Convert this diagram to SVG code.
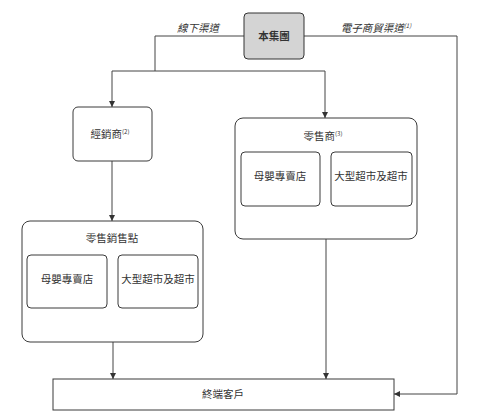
<svg xmlns="http://www.w3.org/2000/svg" width="481" height="420" viewBox="0 0 481 420">
<style>
.box{fill:#fff;stroke:#3a3a3a;stroke-width:1}
.t{font-family:"Noto Sans CJK TC","Noto Sans CJK SC",sans-serif;font-size:10.5px;fill:#333;text-anchor:middle}
.s{font-family:"Noto Sans CJK TC","Liberation Sans",sans-serif;font-size:6px;fill:#333}
.lbl{font-style:italic}
.c{fill:none;stroke:#444;stroke-width:1}
</style>
<defs>
<marker id="ah" viewBox="0 0 10 10" refX="10" refY="5" markerWidth="6" markerHeight="6" orient="auto" markerUnits="userSpaceOnUse">
<path d="M0,0 L10,5 L0,10 z" fill="#333"/>
</marker>
</defs>
<rect width="481" height="420" fill="#fff"/>
<g id="connectors">
<path class="c" d="M244,36 H155 V71"/>
<path class="c" d="M112,71 H325"/>
<path class="c" d="M112,71 V107" marker-end="url(#ah)"/>
<path class="c" d="M325,71 V118" marker-end="url(#ah)"/>
<path class="c" d="M304,36 H457 V394 H394" marker-end="url(#ah)"/>
<path class="c" d="M112,161 V221" marker-end="url(#ah)"/>
<path class="c" d="M113,342 V379" marker-end="url(#ah)"/>
<path class="c" d="M326,239 V379" marker-end="url(#ah)"/>
<text class="t lbl" x="198" y="32">線下渠道</text>
<text class="t lbl" x="376" y="32">電子商貿渠道<tspan class="s" dy="-4">(1)</tspan></text>
</g>
<g id="group">
<rect x="244" y="13" width="60" height="46" rx="4" fill="#d4d4d4" stroke="#333" stroke-width="1"/>
<text class="t" x="274" y="40" font-weight="bold">本集團</text>
</g>
<g id="distributor">
<rect class="box" x="73" y="107" width="79" height="54" rx="5"/>
<text class="t" x="110" y="138">經銷商<tspan class="s" dy="-4">(2)</tspan></text>
</g>
<g id="retail-points">
<rect class="box" x="22" y="221" width="181" height="121" rx="8"/>
<text class="t" x="112" y="242">零售銷售點</text>
</g>
<g id="rp-maternity">
<rect class="box" x="27" y="255" width="80" height="53" rx="4"/>
<text class="t" x="67" y="283">母嬰專賣店</text>
</g>
<g id="rp-supermarket">
<rect class="box" x="118" y="255" width="80" height="53" rx="4"/>
<text class="t" x="158" y="283">大型超市及超市</text>
</g>
<g id="retailer">
<rect class="box" x="235" y="118" width="182" height="121" rx="8"/>
<text class="t" x="323" y="140">零售商<tspan class="s" dy="-4">(3)</tspan></text>
</g>
<g id="r-maternity">
<rect class="box" x="241" y="152" width="79" height="54" rx="4"/>
<text class="t" x="280" y="180">母嬰專賣店</text>
</g>
<g id="r-supermarket">
<rect class="box" x="331" y="152" width="81" height="54" rx="4"/>
<text class="t" x="371" y="180">大型超市及超市</text>
</g>
<g id="end-customer">
<rect class="box" x="53" y="379" width="341" height="31"/>
<text class="t" x="223" y="398">終端客戶</text>
</g>
</svg>
